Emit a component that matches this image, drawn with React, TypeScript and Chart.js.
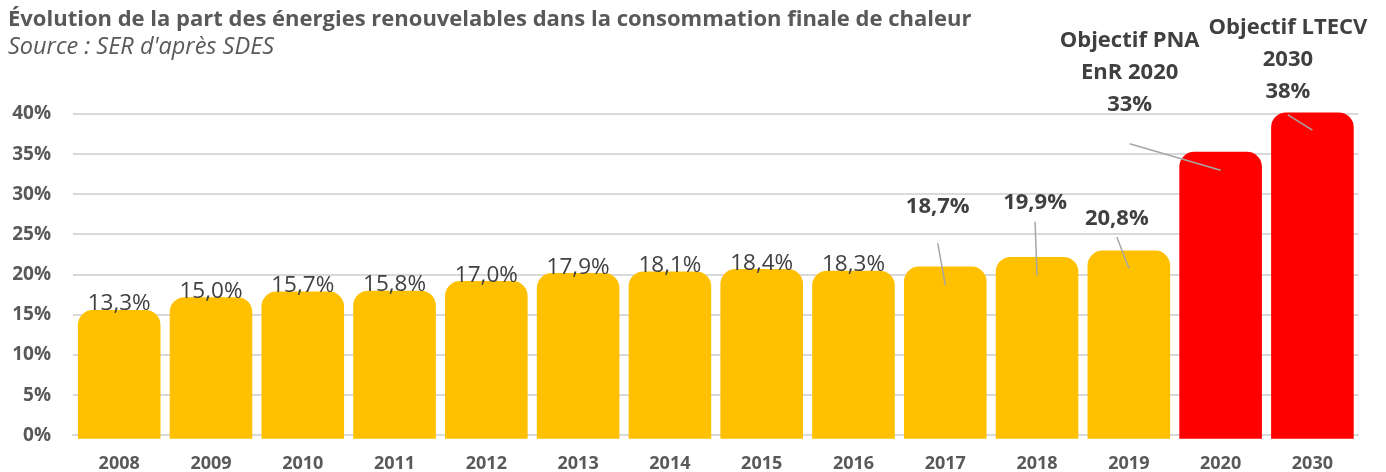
import React, { useEffect, useRef } from 'react';
import { Chart, registerables } from 'chart.js';

Chart.register(...registerables);

// ---------- Data ----------
const categories = ['2008', '2009', '2010', '2011', '2012', '2013', '2014', '2015', '2016', '2017', '2018', '2019', '2020', '2030'];
// Heights of the drawn (rounded-cap) bars (%)
const barTops = [15.6, 17.2, 17.9, 18.0, 19.2, 20.2, 20.4, 20.7, 20.5, 21.0, 22.2, 23.0, 35.3, 40.2];
// Values printed in the labels (%)
const labelValues = [13.3, 15.0, 15.7, 15.8, 17.0, 17.9, 18.1, 18.4, 18.3, 18.7, 19.9, 20.8, 33, 38];
const labelDecimals = [1, 1, 1, 1, 1, 1, 1, 1, 1, 1, 1, 1, 0, 0];
const barColors = ['#FFC000', '#FFC000', '#FFC000', '#FFC000', '#FFC000', '#FFC000', '#FFC000', '#FFC000', '#FFC000', '#FFC000', '#FFC000', '#FFC000', '#FF0000', '#FF0000'];
const yTickValues = [0, 5, 10, 15, 20, 25, 30, 35, 40];

const TITLE = 'Évolution de la part des énergies renouvelables dans la consommation finale de chaleur';
const SUBTITLE = "Source : SER d'après SDES";

// Callout labels (offset labels with leader lines)
const callouts = [
  { index: 9, lines: [] as string[], dx: -7.5, textY: 28.7, lineStartY: 23.9 },
  { index: 10, lines: [] as string[], dx: -2, textY: 29.2, lineStartY: 26.6 },
  { index: 11, lines: [] as string[], dx: -12, textY: 27.2, lineStartY: 24.7 },
  { index: 12, lines: ['Objectif PNA', 'EnR 2020'], dx: -91, textY: 41.4, lineStartY: 36.3 },
  { index: 13, lines: ['Objectif LTECV', '2030'], dx: -24.5, textY: 43.0, lineStartY: 39.9 },
];

const BAR_BASE = -0.42;
const FONT = '"Open Sans", "Noto Sans", sans-serif';
const LINE_H = 32;

const fmtValue = (v: number, d: number) => v.toFixed(d).replace('.', ',') + '%';

const labelPlugin = {
  id: 'customLabels',
  afterDatasetsDraw(chart: any) {
    const ctx = chart.ctx as CanvasRenderingContext2D;
    const meta = chart.getDatasetMeta(0);
    const yScale = chart.scales.y;
    ctx.save();
    ctx.textAlign = 'center';
    ctx.textBaseline = 'alphabetic';
    ctx.fillStyle = '#404040';
    meta.data.forEach((bar: any, i: number) => {
      const c = callouts.find((k) => k.index === i);
      const valueText = fmtValue(labelValues[i], labelDecimals[i]);
      if (!c) {
        ctx.font = `400 22.5px ${FONT}`;
        ctx.fillText(valueText, bar.x, bar.y + 0.5);
      } else {
        const size = 22;
        ctx.font = `700 ${size}px ${FONT}`;
        const lx = bar.x + c.dx;
        const lines = [...c.lines, valueText];
        const lastCenter = yScale.getPixelForValue(c.textY);
        lines.forEach((t, k) => {
          const cy = lastCenter - (lines.length - 1 - k) * LINE_H;
          ctx.fillText(t, lx, cy + 0.357 * size);
        });
        ctx.strokeStyle = '#A6A6A6';
        ctx.lineWidth = 1.5;
        ctx.beginPath();
        ctx.moveTo(lx, yScale.getPixelForValue(c.lineStartY));
        ctx.lineTo(bar.x, yScale.getPixelForValue(labelValues[i]));
        ctx.stroke();
      }
    });
    ctx.restore();
  },
};

const titlePlugin = {
  id: 'customTitle',
  afterDraw(chart: any) {
    const ctx = chart.ctx as CanvasRenderingContext2D;
    ctx.save();
    ctx.fillStyle = '#595959';
    ctx.textAlign = 'left';
    ctx.textBaseline = 'alphabetic';
    ctx.font = `700 22px ${FONT}`;
    ctx.fillText(TITLE, 8, 26);
    ctx.font = `italic 400 23.5px ${FONT}`;
    ctx.fillText(SUBTITLE, 8, 54);
    ctx.restore();
  },
};

export default function App() {
  const canvasRef = useRef<HTMLCanvasElement | null>(null);

  useEffect(() => {
    document.body.style.margin = '0';
    const canvas = canvasRef.current;
    if (!canvas) return;
    const chart = new Chart(canvas, {
      type: 'bar',
      data: {
        labels: categories,
        datasets: [
          {
            data: barTops.map((v) => [BAR_BASE, v]) as any,
            backgroundColor: barColors,
            borderWidth: 0,
            borderRadius: { topLeft: 15, topRight: 15, bottomLeft: 0, bottomRight: 0 },
            borderSkipped: false,
            categoryPercentage: 0.9,
            barPercentage: 1.0,
            clip: false as any,
          },
        ],
      },
      options: {
        responsive: false,
        animation: false,
        devicePixelRatio: 1,
        layout: { padding: { top: 114, right: 27.7, bottom: 0, left: 0 } },
        plugins: {
          legend: { display: false },
          tooltip: { enabled: false },
          title: { display: false },
        },
        scales: {
          x: {
            z: 1,
            grid: { display: false, drawTicks: false },
            border: { display: true, color: '#D9D9D9', width: 2 },
            ticks: {
              color: '#595959',
              font: { family: FONT, size: 18, weight: 'bold' },
              padding: 17.4,
              maxRotation: 0,
            },
            afterFit: (scale: any) => {
              scale.height = 36.7;
            },
          },
          y: {
            min: 0,
            max: 40,
            grid: { color: '#D9D9D9', lineWidth: 2, drawTicks: false },
            border: { display: false },
            afterBuildTicks: (scale: any) => {
              scale.ticks = yTickValues.map((v) => ({ value: v }));
            },
            ticks: {
              color: '#595959',
              font: { family: FONT, size: 19, weight: 'bold' },
              padding: 22.3,
              callback: (v: any) => `${v}%`,
            },
            afterFit: (scale: any) => {
              scale.width = 73.3;
            },
          },
        },
      },
      plugins: [labelPlugin, titlePlugin],
    });
    return () => chart.destroy();
  }, []);

  return (
    <div style={{ width: 1386, height: 472 }}>
      <canvas ref={canvasRef} width={1386} height={472} style={{ display: 'block', width: 1386, height: 472 }} />
    </div>
  );
}
